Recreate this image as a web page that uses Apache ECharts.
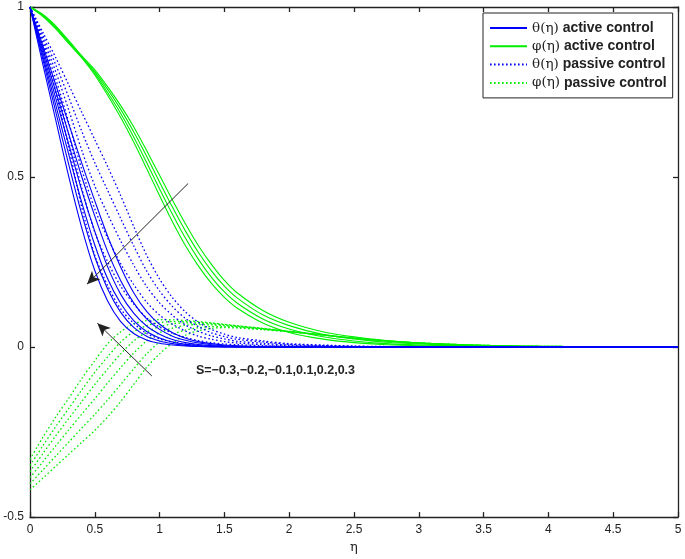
<!DOCTYPE html>
<html><head><meta charset="utf-8">
<script src="https://cdn.jsdelivr.net/npm/echarts@6/dist/echarts.min.js"></script>
<style>html,body{margin:0;padding:0;background:#fff}#c{width:685px;height:559px}</style>
</head><body><div id="c"></div>
<script>
const eta = [0,0.1,0.2,0.3,0.4,0.5,0.6,0.7,0.8,0.9,1.0,1.1,1.2,1.3,1.4,1.5,1.6,1.8,2.0,2.25,2.5,2.75,3.0,3.5,4.0,4.5,5.0];
const sValues = [-0.3,-0.2,-0.1,0.1,0.2,0.3];
const xTicks = [0,0.5,1,1.5,2,2.5,3,3.5,4,4.5,5];
const yTicks = [-0.5,0,0.5,1];

// theta(eta), active control
const thetaActive1 = [1,.83,.665,.5,.35,.225,.135,.075,.04,.021,.011,.006,.003,.0015,.0007,.0003,.0001,0,0,0,0,0,0,0,0,0,0];
const thetaActive2 = [1,.845,.69,.535,.39,.265,.17,.102,.058,.032,.018,.01,.005,.0025,.0012,.0006,.0003,0,0,0,0,0,0,0,0,0,0];
const thetaActive3 = [1,.855,.71,.565,.425,.3,.2,.128,.078,.046,.027,.015,.008,.0045,.0025,.0013,.0007,.0002,0,0,0,0,0,0,0,0,0];
const thetaActive4 = [1,.865,.73,.595,.46,.34,.235,.155,.1,.062,.038,.022,.013,.0075,.0043,.0025,.0014,.0005,.0001,0,0,0,0,0,0,0,0];
const thetaActive5 = [1,.875,.75,.625,.5,.385,.28,.195,.13,.083,.052,.032,.02,.012,.007,.004,.0025,.0009,.0003,0,0,0,0,0,0,0,0];
const thetaActive6 = [1,.885,.77,.655,.54,.43,.325,.235,.16,.105,.067,.042,.026,.016,.01,.006,.004,.0015,.0005,.0001,0,0,0,0,0,0,0];

// phi(eta), active control
const phiActive1 = [1,.972,.935,.892,.85,.8,.74,.675,.603,.525,.445,.368,.298,.238,.187,.146,.114,.07,.043,.024,.013,.007,.004,.001,0,0,0];
const phiActive2 = [1,.974,.938,.895,.852,.805,.748,.687,.618,.543,.465,.39,.32,.258,.205,.162,.129,.082,.053,.031,.018,.01,.006,.002,.0005,0,0];
const phiActive3 = [1,.976,.941,.898,.854,.81,.757,.699,.633,.561,.485,.411,.341,.278,.224,.179,.144,.094,.063,.038,.024,.014,.009,.003,.001,0,0];
const phiActive4 = [1,.978,.944,.901,.856,.815,.765,.71,.648,.578,.505,.432,.362,.298,.243,.196,.159,.107,.073,.046,.03,.019,.012,.004,.0015,.0005,0];

// theta(eta), passive control
const thetaPassive1 = [1,.88,.745,.585,.41,.27,.18,.112,.07,.04,.024,.015,.009,.0055,.0035,.0022,.0014,.0006,.0002,0,0,0,0,0,0,0,0];
const thetaPassive2 = [1,.889,.766,.622,.466,.338,.25,.179,.127,.086,.059,.041,.028,.019,.013,.009,.007,.004,.002,.001,.0005,0,0,0,0,0,0];
const thetaPassive3 = [1,.898,.787,.659,.522,.406,.32,.245,.184,.132,.094,.067,.047,.032,.023,.016,.012,.007,.004,.002,.001,.0005,0,0,0,0,0];
const thetaPassive4 = [1,.907,.808,.696,.578,.474,.39,.312,.241,.178,.13,.093,.065,.046,.033,.024,.017,.011,.006,.003,.0015,.0008,.0003,0,0,0,0];
const thetaPassive5 = [1,.916,.829,.733,.634,.542,.46,.378,.298,.224,.165,.119,.084,.06,.042,.031,.023,.015,.008,.0045,.002,.001,.0005,0,0,0,0];
const thetaPassive6 = [1,.925,.85,.77,.69,.61,.53,.445,.355,.27,.2,.145,.103,.073,.052,.038,.028,.018,.01,.006,.003,.0015,.0008,.0002,0,0,0];

// phi(eta), passive control
const phiPassive1 = [-.33,-.265,-.205,-.15,-.092,-.04,.01,.045,.068,.078,.081,.08,.078,.075,.071,.067,.063,.055,.046,.036,.026,.018,.012,.005,.002,.0007,0];
const phiPassive2 = [-.348,-.29,-.233,-.18,-.126,-.074,-.028,.015,.045,.063,.072,.075,.075,.073,.07,.066,.062,.054,.046,.036,.026,.018,.012,.005,.002,.0007,0];
const phiPassive3 = [-.366,-.313,-.26,-.21,-.16,-.11,-.064,-.02,.018,.044,.06,.068,.071,.07,.068,.065,.061,.054,.046,.036,.026,.018,.012,.005,.002,.0007,0];
const phiPassive4 = [-.384,-.337,-.29,-.243,-.197,-.152,-.105,-.06,-.018,.018,.042,.056,.064,.066,.065,.063,.06,.053,.045,.036,.026,.018,.012,.005,.002,.0007,0];
const phiPassive5 = [-.402,-.361,-.32,-.279,-.238,-.198,-.155,-.11,-.064,-.02,.015,.037,.05,.057,.06,.06,.058,.052,.045,.036,.026,.018,.012,.005,.002,.0007,0];
const phiPassive6 = [-.42,-.385,-.35,-.315,-.28,-.245,-.205,-.16,-.11,-.06,-.02,.012,.035,.048,.055,.057,.056,.051,.045,.036,.026,.018,.012,.005,.002,.0007,0];

const thetaActive = [thetaActive1,thetaActive2,thetaActive3,thetaActive4,thetaActive5,thetaActive6];
const phiActive = [phiActive1,phiActive2,phiActive3,phiActive4];
const thetaPassive = [thetaPassive1,thetaPassive2,thetaPassive3,thetaPassive4,thetaPassive5,thetaPassive6];
const phiPassive = [phiPassive1,phiPassive2,phiPassive3,phiPassive4,phiPassive5,phiPassive6];

const names = ['θ(η) active control','φ(η) active control','θ(η) passive control','φ(η) passive control'];
const BLUE = '#0000ff', GREEN = '#00ee00';

function mk(arr, name, color, dotted) {
  return {
    type: 'line', name: name, showSymbol: false, symbol: 'none', smooth: 0.3,
    data: eta.map((x, i) => [x, arr[i]]),
    lineStyle: { color: color, width: dotted ? 1.3 : 1.1, type: dotted ? [1.6, 2.4] : 'solid' },
    itemStyle: { color: color },
    silent: true, animation: false, z: dotted ? 3 : 4
  };
}

const series = [];
phiPassive.forEach(a => series.push(mk(a, names[3], GREEN, true)));
thetaPassive.forEach(a => series.push(mk(a, names[2], BLUE, true)));
phiActive.forEach(a => series.push(mk(a, names[1], GREEN, false)));
thetaActive.forEach(a => series.push(mk(a, names[0], BLUE, false)));

// annotation arrows + label
series.push({
  type: 'line', name: 'annot', data: [], silent: true, animation: false, z: 6,
  markLine: {
    silent: true, animation: false,
    symbol: ['none', 'arrow'], symbolSize: [9, 13],
    lineStyle: { color: '#222', width: 1, type: 'solid' },
    itemStyle: { color: '#222' },
    label: { show: false },
    data: [
      [{ coord: [1.22, 0.481] }, { coord: [0.44, 0.185] }],
      [{ coord: [0.94, -0.085] }, { coord: [0.52, 0.07] }]
    ]
  },
  markPoint: {
    silent: true, animation: false, symbol: 'circle', symbolSize: 0,
    data: [{ coord: [1.28, -0.07], value: 'S' }],
    label: {
      show: true, position: 'right', distance: 0,
      formatter: 'S=−0.3,−0.2,−0.1,0.1,0.2,0.3',
      color: '#222', fontFamily: 'Liberation Sans', fontWeight: 'bold', fontSize: 12.5
    }
  }
});

const axisCommon = {
  axisLine: { show: true, onZero: false, lineStyle: { color: '#222', width: 1.3 } },
  axisTick: { show: true, inside: true, length: 5, lineStyle: { color: '#222', width: 1.3 } },
  splitLine: { show: false }
};
const lbl = { color: '#222', fontFamily: 'Liberation Sans', fontSize: 12 };

const chart = echarts.init(document.getElementById('c'), null, { renderer: 'canvas' });
chart.setOption({
  animation: false,
  backgroundColor: '#fff',
  grid: { left: 30, right: 7, top: 7, bottom: 38 },
  legend: {
    data: names, orient: 'vertical', left: 483, top: 13,
    borderColor: '#222', borderWidth: 1, backgroundColor: '#fff',
    padding: [8, 6, 8, 6], itemGap: 4.3, itemWidth: 37, itemHeight: 14,
    selectedMode: false,
    itemStyle: { opacity: 0, color: 'rgba(0,0,0,0)', borderWidth: 0 },
    textStyle: {
      color: '#222', fontFamily: 'Liberation Sans', fontSize: 14, fontWeight: 'bold',
      rich: { g: { fontFamily: 'DejaVu Serif', fontSize: 13.5, fontWeight: 'normal', color: '#222' },
              b: { fontFamily: 'Liberation Sans', fontSize: 14, fontWeight: 'bold', color: '#222' } }
    },
    formatter: n => { const p = n.indexOf(')') + 1; return '{g|' + n.slice(0, p) + '}{b|' + n.slice(p) + '}'; }
  },
  xAxis: [
    Object.assign({ type: 'value', min: xTicks[0], max: xTicks[xTicks.length - 1], interval: 0.5, position: 'bottom',
      name: 'η', nameLocation: 'middle', nameGap: 23, nameTextStyle: { color: '#222', fontFamily: 'DejaVu Serif', fontSize: 13 },
      axisLabel: Object.assign({ margin: 7, formatter: v => String(v) }, lbl) }, axisCommon),
    Object.assign({ type: 'value', min: 0, max: 5, interval: 0.5, position: 'top', axisLabel: { show: false } }, axisCommon)
  ],
  yAxis: [
    Object.assign({ type: 'value', min: yTicks[0], max: yTicks[yTicks.length - 1], interval: 0.5, position: 'left',
      axisLabel: Object.assign({ margin: 6, formatter: v => String(v) }, lbl) }, axisCommon),
    Object.assign({ type: 'value', min: -0.5, max: 1, interval: 0.5, position: 'right', axisLabel: { show: false } }, axisCommon)
  ],
  series: series
});
</script></body></html>
